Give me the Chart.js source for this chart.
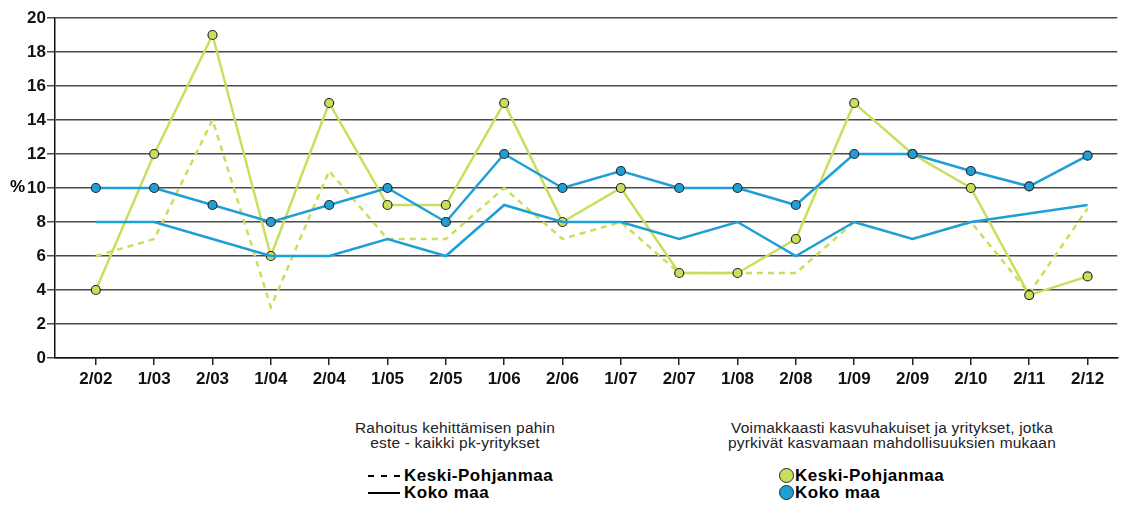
<!DOCTYPE html>
<html>
<head>
<meta charset="utf-8">
<script src="https://cdn.jsdelivr.net/npm/chart.js@4.4.1/dist/chart.umd.min.js"></script>
<style>
    body { margin: 0; background: #fff; font-family: "Liberation Sans", Arial, sans-serif; }
    #wrap { position: relative; width: 1123px; height: 505px; }
    #chart { position: absolute; left: 0; top: 0; }
    .pct { position: absolute; left: 10px; top: 177px; font-weight: bold; font-size: 17px; }
    .title { position: absolute; font-size: 15.5px; letter-spacing: 0.2px; line-height: 15px; text-align: center; color: #222; }
    .item { position: absolute; font-size: 17px; font-weight: bold; letter-spacing: 0.5px; line-height: 17px; display: flex; align-items: center; }
    .dash { display: inline-flex; width: 32px; justify-content: space-between; margin-right: 4px; }
    .dash span { width: 6px; height: 2px; background: #000; }
    .solid { width: 32px; height: 2px; background: #000; margin-right: 4px; }
    .dot { width: 15px; height: 15px; border-radius: 50%; border: 1.5px solid #2a2a2a; margin-right: 1px; box-sizing: border-box; }
</style>
</head>
<body>
<div id="wrap">
    <canvas id="chart" width="1123" height="400"></canvas>
    <div class="pct">%</div>

    <div class="title" style="left:305px; top:420px; width:300px;">Rahoitus kehittämisen pahin<br>este - kaikki pk-yritykset</div>
    <div class="item" style="left:368px; top:467px;"><span class="dash"><span></span><span></span><span></span></span>Keski-Pohjanmaa</div>
    <div class="item" style="left:368px; top:484px;"><span class="solid"></span>Koko maa</div>

    <div class="title" style="left:692px; top:420px; width:400px;">Voimakkaasti kasvuhakuiset ja yritykset, jotka<br>pyrkivät kasvamaan mahdollisuuksien mukaan</div>
    <div class="item" style="left:779px; top:467px;"><span class="dot" style="background:#c8df5c;"></span>Keski-Pohjanmaa</div>
    <div class="item" style="left:779px; top:484px;"><span class="dot" style="background:#1e9fd6;"></span>Koko maa</div>
</div>
<script>
const periods = ['2/02', '1/03', '2/03', '1/04', '2/04', '1/05', '2/05', '1/06', '2/06',
                 '1/07', '2/07', '1/08', '2/08', '1/09', '2/09', '2/10', '2/11', '2/12'];

// Voimakkaasti kasvuhakuiset (markers)
const growthKeski = [4, 12, 19, 6, 15, 9, 9, 15, 8, 10, 5, 5, 7, 15, 12, 10, 3.7, 4.8];
const growthKoko  = [10, 10, 9, 8, 9, 10, 8, 12, 10, 11, 10, 10, 9, 12, 12, 11, 10.1, 11.9];

// Rahoitus kehittämisen pahin este (lines only)
const financeKeski = [6, 7, 14, 3, 11, 7, 7, 10, 7, 8, 5, 5, 5, 8, 7, 8, 3.8, 8.8];
const financeKoko  = [8, 8, 7, 6, 6, 7, 6, 9, 8, 8, 7, 8, 6, 8, 7, 8, 8.5, 9];

const yTicks = [0, 2, 4, 6, 8, 10, 12, 14, 16, 18, 20];

const green = '#c8df5c';
const blue = '#1e9fd6';

function toPoints(arr) {
    return arr.map((v, i) => ({ x: i, y: v }));
}

const ctx = document.getElementById('chart').getContext('2d');
new Chart(ctx, {
    type: 'line',
    data: {
        datasets: [
            {
                label: 'Koko maa (kasvuhakuiset)',
                data: toPoints(growthKoko),
                borderColor: blue,
                backgroundColor: blue,
                borderWidth: 2.5,
                pointRadius: 4.5,
                pointBorderColor: '#2a2a2a',
                pointBorderWidth: 1.2,
                tension: 0
            },
            {
                label: 'Koko maa (rahoitus)',
                data: toPoints(financeKoko),
                borderColor: blue,
                borderWidth: 2.5,
                pointRadius: 0,
                tension: 0
            },
            {
                label: 'Keski-Pohjanmaa (kasvuhakuiset)',
                data: toPoints(growthKeski),
                borderColor: green,
                backgroundColor: green,
                borderWidth: 2.5,
                pointRadius: 4.5,
                pointBorderColor: '#2a2a2a',
                pointBorderWidth: 1.2,
                tension: 0
            },
            {
                label: 'Keski-Pohjanmaa (rahoitus)',
                data: toPoints(financeKeski),
                borderColor: green,
                borderWidth: 2.5,
                borderDash: [6, 5],
                pointRadius: 0,
                tension: 0
            }
        ]
    },
    options: {
        responsive: false,
        animation: false,
        layout: { padding: { top: 18, right: 0, left: 0, bottom: 0 } },
        plugins: {
            legend: { display: false },
            tooltip: { enabled: false }
        },
        scales: {
            x: {
                type: 'linear',
                min: -0.7,
                max: 17.51,
                afterBuildTicks: function (scale) {
                    scale.ticks = periods.map((p, i) => ({ value: i }));
                },
                afterFit: function (scale) { scale.height = 42; },
                ticks: {
                    autoSkip: false,
                    maxRotation: 0,
                    padding: 4,
                    color: '#111',
                    font: { family: 'Liberation Sans', size: 17, weight: 'bold' },
                    callback: function (value) { return periods[value]; }
                },
                grid: { drawOnChartArea: false, drawTicks: true, tickLength: 7, color: '#222', lineWidth: 1.5 },
                border: { color: '#111', width: 1.5 }
            },
            y: {
                min: 0,
                max: 20,
                afterBuildTicks: function (scale) {
                    scale.ticks = yTicks.map(v => ({ value: v }));
                },
                afterFit: function (scale) { scale.width = 55; },
                ticks: {
                    padding: 1,
                    color: '#111',
                    font: { family: 'Liberation Sans', size: 17, weight: 'bold' }
                },
                grid: { color: '#4a4a4a', lineWidth: 1.5, tickLength: 8 },
                border: { color: '#111', width: 1.5 }
            }
        }
    }
});
</script>
</body>
</html>
